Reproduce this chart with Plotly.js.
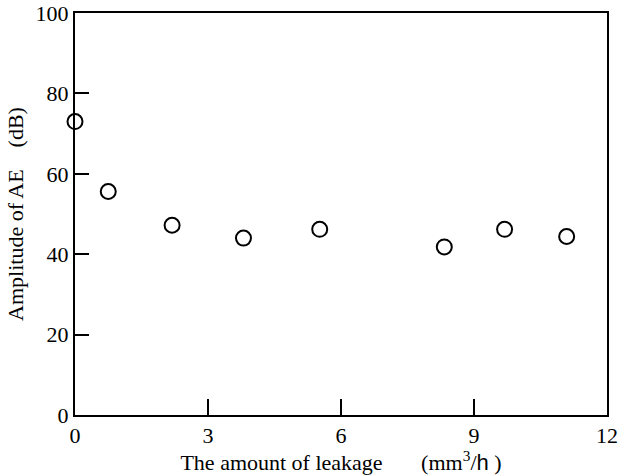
<!DOCTYPE html>
<html>
<head>
<meta charset="utf-8">
<script src="https://cdn.plot.ly/plotly-3.0.1.min.js"></script>
<style>html,body{margin:0;padding:0;background:#fff;}#chart{width:627px;height:475px;}</style>
</head>
<body>
<div id="chart"></div>
<script>
const leakage = [0, 0.75, 2.19, 3.80, 5.52, 8.33, 9.69, 11.09];
const amplitude = [73.0, 55.6, 47.2, 44.0, 46.2, 41.8, 46.2, 44.4];
const xTicks = [0, 3, 6, 9, 12];
const yTicks = [0, 20, 40, 60, 80, 100];

const serif = "Liberation Serif";
const sp = '\u00a0';
Plotly.newPlot('chart', [{
  x: leakage, y: amplitude, type: 'scatter', mode: 'markers',
  marker: {symbol: 'circle-open', size: 15, color: '#000', line: {width: 2, color: '#000'}},
  cliponaxis: false, hoverinfo: 'skip'
}], {
  width: 627, height: 475,
  margin: {l: 75, r: 20, t: 13, b: 60},
  paper_bgcolor: '#fff', plot_bgcolor: '#fff',
  showlegend: false,
  font: {family: serif, size: 22, color: '#000'},
  xaxis: {
    range: [0, 12], tickvals: xTicks, ticktext: xTicks.map(String),
    ticks: 'inside', ticklen: 16, tickwidth: 2, tickcolor: '#000',
    showline: true, linewidth: 2, linecolor: '#000', mirror: true,
    showgrid: false, zeroline: false,
    tickfont: {family: serif, size: 22, color: '#000'},
    title: {text: 'The amount of leakage' + sp.repeat(7) + '(mm<sup>3</sup>/<span style="font-family:Liberation Sans">h</span> )' + sp.repeat(4), font: {family: serif, size: 22, color: '#000'}, standoff: 4}
  },
  yaxis: {
    range: [0, 100.0001], tickvals: yTicks, ticktext: yTicks.map(String),
    ticks: 'inside', ticklen: 14, tickwidth: 2, tickcolor: '#000',
    showline: true, linewidth: 2, linecolor: '#000', mirror: true,
    showgrid: false, zeroline: false,
    tickfont: {family: serif, size: 22, color: '#000'},
    title: {text: 'Amplitude of AE' + sp.repeat(4) + '(dB)', font: {family: serif, size: 22, color: '#000'}, standoff: 6}
  }
}, {staticPlot: true, displayModeBar: false});
</script>
</body>
</html>
